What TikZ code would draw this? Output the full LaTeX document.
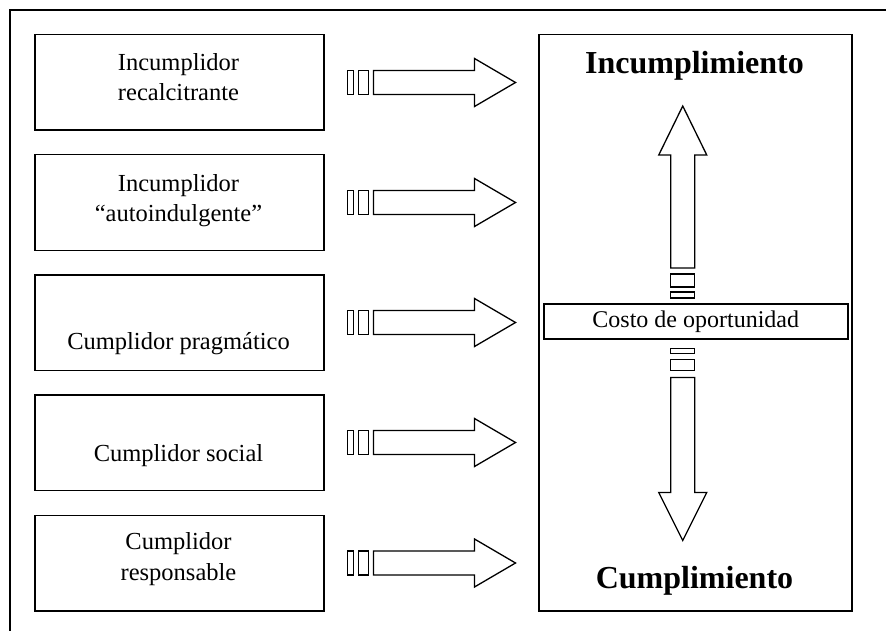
\documentclass[tikz,border=0pt]{standalone}
\usepackage{fontspec}
\setmainfont{Liberation Serif}
\usetikzlibrary{calc}
\begin{document}
\begin{tikzpicture}[x=1pt,y=-1pt,line join=miter,
  box/.style={draw,line width=1.5pt,minimum width=289pt,minimum height=95.5pt,inner sep=0pt,anchor=north west},
  lbl/.style={font=\fontsize{24.5}{29}\selectfont,anchor=base,inner sep=0pt},
  big/.style={font=\fontsize{32}{38}\selectfont\bfseries,anchor=base,inner sep=0pt},
  blk/.style={draw,line width=1.3pt,fill=white}]
\useasboundingbox (0,0) rectangle (886,631);
\clip (0,0) rectangle (886,631);
\draw[line width=1.3pt] (10,10) rectangle (900,650);
% left boxes
\node[box] (b1) at (34,34) {};
\node[box] (b2) at (34,154) {};
\node[box] (b3) at (34,274) {};
\node[box] (b4) at (34,394) {};
\node[box] (b5) at (34,514.5) {};
\node[lbl] (t1a) at (178.5,71) {Incumplidor};
\node[lbl] (t1b) at (178.5,100.5) {recalcitrante};
\node[lbl] (t2a) at (178.5,191.5) {Incumplidor};
\node[lbl] (t2b) at (178.5,221.5) {“autoindulgente”};
\node[lbl] (t3) at (178.5,349) {Cumplidor pragmático};
\node[lbl] (t4) at (178.5,461) {Cumplidor social};
\node[lbl] (t5a) at (178.5,549.5) {Cumplidor};
\node[lbl] (t5b) at (178.5,580) {responsable};
% right box
\node[draw,line width=1.5pt,minimum width=313pt,minimum height=576pt,inner sep=0pt,anchor=north west] (R) at (538,34) {};
\node[big] (inc) at (694.5,74) {Incumplimiento};
\node[big] (cum) at (694.5,588) {Cumplimiento};
\node[draw,line width=1.5pt,minimum width=304pt,minimum height=35pt,inner sep=0pt,anchor=north west,font=\fontsize{24}{28}\selectfont] (c) at (543,303) {Costo de oportunidad};
% horizontal striped arrows
\foreach \b in {b1,b2,b3,b4,b5}{
  \begin{scope}[shift={(\b.east)}]
    \draw[blk] (23,-12) rectangle (29,12);
    \draw[blk] (34,-12) rectangle (44,12);
    \draw[blk] (49,-12) -- (150,-12) -- (150,-24) -- (191,0) -- (150,24) -- (150,12) -- (49,12) -- cycle;
  \end{scope}
}
% vertical arrows
\coordinate (ua) at ($(c.north)+(-13,0)$);
\coordinate (da) at ($(c.south)+(-13,0)$);
\begin{scope}[shift={(ua)}]
  \draw[blk] (-12,-11) rectangle (12,-5);
  \draw[blk] (-12,-29) rectangle (12,-16);
  \draw[blk] (-12,-35) -- (-12,-148) -- (-24,-148) -- (0,-197) -- (24,-148) -- (12,-148) -- (12,-35) -- cycle;
\end{scope}
\begin{scope}[shift={(da)}]
  \draw[blk] (-12,9) rectangle (12,14);
  \draw[blk] (-12,20) rectangle (12,31);
  \draw[blk] (-12,38) -- (-12,153) -- (-24,153) -- (0,201) -- (24,153) -- (12,153) -- (12,38) -- cycle;
\end{scope}
\end{tikzpicture}
\end{document}
